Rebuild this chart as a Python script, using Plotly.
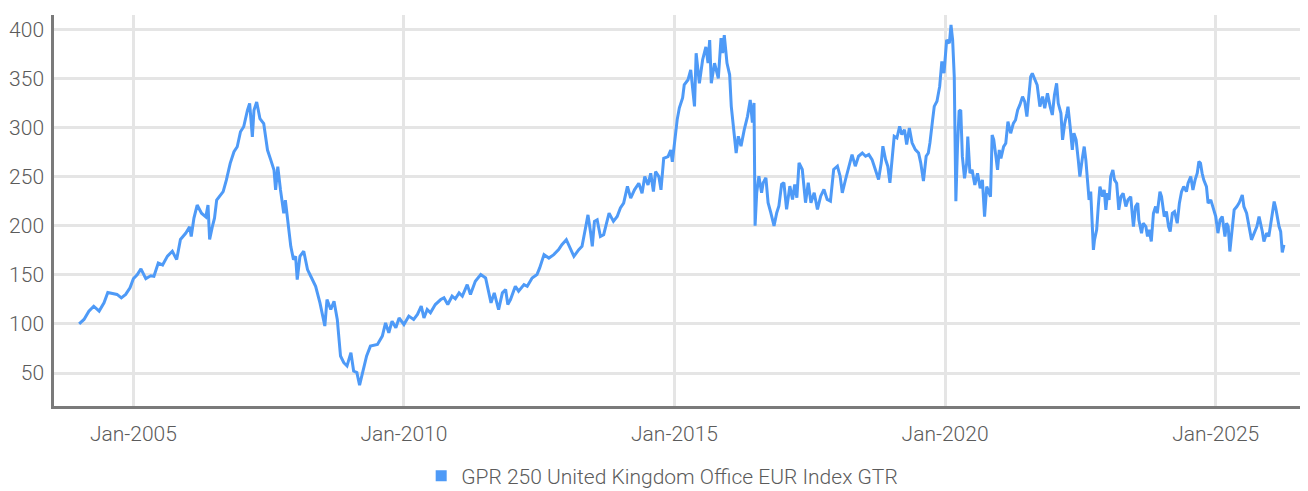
import plotly.graph_objects as go
from datetime import datetime, timedelta

# decimal-year positions and index values
year_pos = [
    2004.00, 2004.09, 2004.18, 2004.27, 2004.37, 2004.46, 2004.53, 2004.61, 2004.70, 2004.78,
    2004.86, 2004.94, 2005.00, 2005.07, 2005.14, 2005.23, 2005.32, 2005.38, 2005.46, 2005.54,
    2005.63, 2005.72, 2005.80, 2005.87, 2005.97, 2006.04, 2006.07, 2006.12, 2006.18, 2006.26,
    2006.34, 2006.38, 2006.41, 2006.46, 2006.50, 2006.54, 2006.61, 2006.66, 2006.72, 2006.79,
    2006.86, 2006.92, 2006.98, 2007.04, 2007.11, 2007.15, 2007.20, 2007.23, 2007.28, 2007.34,
    2007.41, 2007.48, 2007.54, 2007.60, 2007.63, 2007.67, 2007.72, 2007.78, 2007.81, 2007.88,
    2007.91, 2007.96, 2008.00, 2008.03, 2008.08, 2008.15, 2008.22, 2008.28, 2008.37, 2008.45,
    2008.54, 2008.58, 2008.65, 2008.71, 2008.77, 2008.83, 2008.89, 2008.95, 2009.02, 2009.07,
    2009.13, 2009.18, 2009.23, 2009.31,
    2009.38, 2009.51, 2009.60, 2009.66, 2009.72, 2009.78, 2009.85, 2009.91, 2010.00, 2010.09,
    2010.18, 2010.25, 2010.32, 2010.37, 2010.43, 2010.49, 2010.58, 2010.68, 2010.74, 2010.81,
    2010.89, 2010.95, 2011.02, 2011.08, 2011.17, 2011.23, 2011.32, 2011.42, 2011.51, 2011.57,
    2011.61, 2011.67, 2011.75, 2011.82, 2011.88, 2011.92, 2011.97, 2012.06, 2012.12, 2012.22,
    2012.28, 2012.37, 2012.46, 2012.51, 2012.59, 2012.68, 2012.77, 2012.86, 2012.92, 2013.00,
    2013.08, 2013.14, 2013.23, 2013.29, 2013.36, 2013.40, 2013.45, 2013.48, 2013.52, 2013.57,
    2013.63, 2013.69, 2013.79, 2013.87, 2013.94, 2014.00, 2014.06, 2014.13, 2014.19, 2014.26,
    2014.34, 2014.40, 2014.45, 2014.51, 2014.56, 2014.61, 2014.65, 2014.71, 2014.75, 2014.80,
    2014.88, 2014.93, 2014.96,
    2015.00, 2015.05, 2015.09, 2015.15, 2015.18, 2015.25, 2015.30, 2015.34, 2015.37, 2015.40,
    2015.46, 2015.52, 2015.58, 2015.62, 2015.65, 2015.68, 2015.74, 2015.81, 2015.86, 2015.89,
    2015.92, 2015.97, 2016.02, 2016.05, 2016.10, 2016.14, 2016.18, 2016.23, 2016.29, 2016.35,
    2016.40, 2016.44, 2016.47, 2016.49,
    2016.52, 2016.56, 2016.61, 2016.64, 2016.69, 2016.73, 2016.78, 2016.84, 2016.89, 2016.93,
    2016.98, 2017.02, 2017.07, 2017.13, 2017.18, 2017.22, 2017.26, 2017.30, 2017.36, 2017.42,
    2017.47, 2017.52, 2017.58, 2017.64, 2017.70, 2017.76, 2017.82, 2017.88, 2017.94, 2018.01,
    2018.06, 2018.10, 2018.16, 2018.22, 2018.28, 2018.34, 2018.40, 2018.47, 2018.53, 2018.59,
    2018.65, 2018.71, 2018.77, 2018.82, 2018.85, 2018.90, 2018.94, 2018.98, 2019.02, 2019.06,
    2019.11, 2019.16, 2019.20, 2019.25, 2019.29, 2019.34, 2019.39, 2019.45, 2019.51, 2019.55,
    2019.60, 2019.65, 2019.69, 2019.72, 2019.77, 2019.80, 2019.85, 2019.90, 2019.94, 2019.98,
    2020.03, 2020.08, 2020.11, 2020.14, 2020.17, 2020.20, 2020.23, 2020.26,
    2020.29, 2020.32, 2020.36, 2020.40, 2020.42, 2020.46, 2020.50, 2020.55, 2020.60, 2020.65,
    2020.69, 2020.73, 2020.77, 2020.81, 2020.84, 2020.87, 2020.90, 2020.94, 2020.97, 2021.00,
    2021.03, 2021.08, 2021.12, 2021.16, 2021.21, 2021.26, 2021.30, 2021.34, 2021.38, 2021.43,
    2021.47, 2021.51, 2021.55, 2021.58, 2021.61, 2021.66, 2021.70, 2021.75, 2021.80, 2021.84,
    2021.89, 2021.94, 2021.98, 2022.02, 2022.06, 2022.09, 2022.14, 2022.17, 2022.21, 2022.25,
    2022.27, 2022.31, 2022.35, 2022.38, 2022.42, 2022.46, 2022.49, 2022.54, 2022.57, 2022.60,
    2022.63, 2022.66, 2022.69, 2022.72, 2022.74, 2022.76, 2022.80, 2022.83, 2022.86, 2022.91,
    2022.94, 2022.97, 2023.00, 2023.03, 2023.06, 2023.10, 2023.13, 2023.17, 2023.21, 2023.25,
    2023.29, 2023.34, 2023.38, 2023.43, 2023.48, 2023.52, 2023.56, 2023.58, 2023.63, 2023.66,
    2023.71, 2023.74, 2023.77, 2023.81, 2023.85, 2023.89, 2023.92, 2023.97, 2024.00, 2024.05,
    2024.09, 2024.13, 2024.16, 2024.20, 2024.24, 2024.29, 2024.33, 2024.37, 2024.41, 2024.46,
    2024.49, 2024.54, 2024.58, 2024.62, 2024.66, 2024.69, 2024.72, 2024.75, 2024.78, 2024.83,
    2024.86, 2024.91, 2024.96, 2025.00, 2025.04, 2025.08, 2025.12, 2025.17, 2025.20, 2025.23,
    2025.26, 2025.31, 2025.34, 2025.39, 2025.43, 2025.49, 2025.52, 2025.57, 2025.62, 2025.66,
    2025.71, 2025.76, 2025.80, 2025.83, 2025.86, 2025.89, 2025.94, 2025.98, 2026.03, 2026.08,
    2026.11, 2026.14, 2026.17, 2026.20, 2026.23, 2026.26,
]

index_values = [
    100, 104.5, 113, 118, 113, 121.5, 132, 131, 130, 126.5,
    130, 136.7, 146, 150, 156, 146, 149, 148.5, 162, 160,
    169, 174, 165.5, 186, 192.5, 199, 189, 207.7, 221, 212.7,
    209, 221, 186, 199, 207.7, 226, 231, 234.7, 246.6, 263.5,
    275.3, 280.4, 295.6, 300.7, 317.6, 324.4, 290.5, 317.6, 326, 309,
    304, 277, 267, 256.7, 236.4, 260, 236.4, 212.7, 226, 196,
    179, 165.4, 168.8, 145, 168.8, 174, 155.3, 148.5, 138.3, 121.4,
    97.8, 124.8, 114.6, 123, 104.5, 67.3, 60.5, 57.2, 70.7, 52,
    50.4, 37.6, 50.4, 67.3,
    77.4, 79, 87.6, 101, 91, 102.8, 96, 106, 99.4, 107.9,
    104.5, 109.6, 118, 106, 114.6, 111.3, 119.7, 124.8, 126.5, 119.7,
    128.2, 125.5, 131.6, 128.2, 140, 130, 143.4, 150.2, 146.8, 131.6,
    121.4, 131.6, 114.6, 131.6, 135, 119.7, 124.8, 138.3, 133.3, 140,
    138.3, 146.8, 150.2, 157, 170.5, 167, 170.5, 175.6, 180.6, 185.7,
    175.6, 168.8, 175.6, 179, 199.2, 211, 192.5, 179, 204.4, 206,
    189, 190.8, 212.8, 204.4, 209.4, 218, 223, 240, 228, 236.5,
    243.2, 233, 250, 241.5, 253.4, 234.8, 255, 250, 236.5, 268.6,
    270.3, 277, 265,
    286, 308, 320, 330, 343.5, 348.6, 358.7, 338.4, 321.5, 375.6,
    345, 369, 382, 365.5, 389, 345, 365.5, 350, 391, 375.6,
    394, 365.5, 353.6, 321.5, 297.8, 274, 291, 281, 297.8, 311.3,
    328, 305, 325, 200,
    233.5, 250.4, 233.5, 243.7, 248.7, 223.4, 213.2, 199.7, 213.2, 220,
    242, 243.7, 216.6, 240.3, 226.7, 242, 228.4, 264, 257.2, 223.4,
    243.7, 223.4, 233.5, 216.6, 230, 236.9, 226.7, 225, 257.2, 260.6,
    250.4, 233.5, 247, 260.6, 272.4, 260.6, 270.7, 274, 270.7, 272.4,
    267.3, 257.2, 247, 264, 280.9, 267.3, 260.6, 243.7, 264, 291,
    289.3, 301.2, 292.7, 297.8, 282.6, 299.5, 284.3, 277.5, 274, 264,
    245.4, 270.7, 274, 284.3, 308, 321.5, 326.6, 341.8, 367.2, 355.3,
    389.2, 385.8, 404.4, 389.2, 352, 225, 281, 316.4,
    317.8, 270.3, 248.3, 263.6, 290.7, 253.4, 256.8, 241.5, 253.4, 238.1,
    246.6, 209.3, 239.8, 233, 229.6, 292.4, 287.3, 270.3, 256.8, 277.1,
    268.6, 280.5, 283.9, 305.9, 294.1, 304.2, 307.6, 317.8, 322.9, 331.4,
    326.3, 311, 338.1, 351.7, 355, 348.3, 343.2, 321.2, 331.4, 319.5,
    334.7, 321.2, 312.7, 333, 344.9, 324.6, 314.4, 287.3, 304.2, 314.4,
    321.2, 300.8, 277.1, 294.1, 287.3, 267, 250, 270.3, 280.5, 267,
    243.2, 226.3, 234.7, 205.9, 175.4, 185.6, 195.8, 219.5, 239.8, 229.6,
    236.4, 216.1, 233, 226.3, 250, 256.8, 246.6, 243.2, 216.1, 229.6,
    233, 219.5, 226.3, 229.6, 199.1, 219.5, 222.9, 205.9, 192.4, 202.5,
    199.1, 189, 195.8, 183.9, 212.7, 219.5, 212.7, 234.7, 229.6, 209.3,
    214.4, 199.1, 194.1, 212.7, 214.4, 202.5, 222.9, 234.7, 239.8, 234.7,
    243.2, 250, 236.4, 246.6, 253.4, 265.3, 263.6, 253.4, 246.6, 239.8,
    222.9, 226.3, 217.8, 209.3, 192.4, 205.9, 209.3, 189, 202.5, 199.1,
    173.7, 199.1, 216.1, 219.5, 222.9, 231.3, 219.5, 212.7, 199.1, 185.6,
    192.4, 199.1, 209.3, 202.5, 194.1, 183.9, 192.4, 189, 205.9, 224.6,
    217.8, 205.9, 199.1, 194.1, 172.7, 180.5,
]

x_tick_dates = ["2005-01-01", "2010-01-01", "2015-01-01", "2020-01-01", "2025-01-01"]
x_tick_labels = ["Jan-2005", "Jan-2010", "Jan-2015", "Jan-2020", "Jan-2025"]
y_tick_values = [50, 100, 150, 200, 250, 300, 350, 400]

series_name = "GPR 250 United Kingdom Office EUR Index GTR"
line_color = "#4e9af7"


def to_date(y):
    yr = int(y)
    return datetime(yr, 1, 1) + timedelta(days=(y - yr) * 365.25)


dates = [to_date(v) for v in year_pos]

font_family = "Roboto"
font_color = "#5b5b5b"

fig = go.Figure()
fig.add_trace(go.Scatter(
    x=dates, y=index_values, mode="lines",
    line=dict(color=line_color, width=3),
    name=series_name, showlegend=False,
))
fig.add_trace(go.Scatter(
    x=[None], y=[None], mode="markers",
    marker=dict(symbol="square", size=11, color=line_color),
    name=series_name, showlegend=True,
))

fig.update_layout(
    width=1300, height=483,
    margin=dict(l=46, r=0, t=7, b=85, autoexpand=False),
    paper_bgcolor="white", plot_bgcolor="white",
    font=dict(family=font_family, size=21, color=font_color, weight=300),
    showlegend=True,
    legend=dict(
        orientation="h", x=0.485, xanchor="center", y=-0.127, yanchor="top",
        font=dict(family=font_family, size=21, color=font_color, weight=300),
        itemwidth=30, bgcolor="rgba(0,0,0,0)",
    ),
)

fig.update_xaxes(
    type="date",
    range=[to_date(2003.535), to_date(2026.705)],
    tickvals=x_tick_dates, ticktext=x_tick_labels,
    showgrid=True, gridcolor="#e5e5e5", gridwidth=2.5,
    showline=True, linecolor="#7a7a7a", linewidth=2.5,
    ticks="", ticklabelstandoff=7, automargin=False,
    tickfont=dict(family=font_family, size=21, color=font_color, weight=300),
    zeroline=False,
)
fig.update_yaxes(
    range=[16.4, 414.5],
    tickvals=y_tick_values,
    showgrid=True, gridcolor="#e5e5e5", gridwidth=2.5,
    showline=True, linecolor="#7a7a7a", linewidth=2.5,
    ticks="", ticklabelstandoff=3, automargin=False,
    tickfont=dict(family=font_family, size=21, color=font_color, weight=300),
    zeroline=False,
)

fig.write_html("out.html")
